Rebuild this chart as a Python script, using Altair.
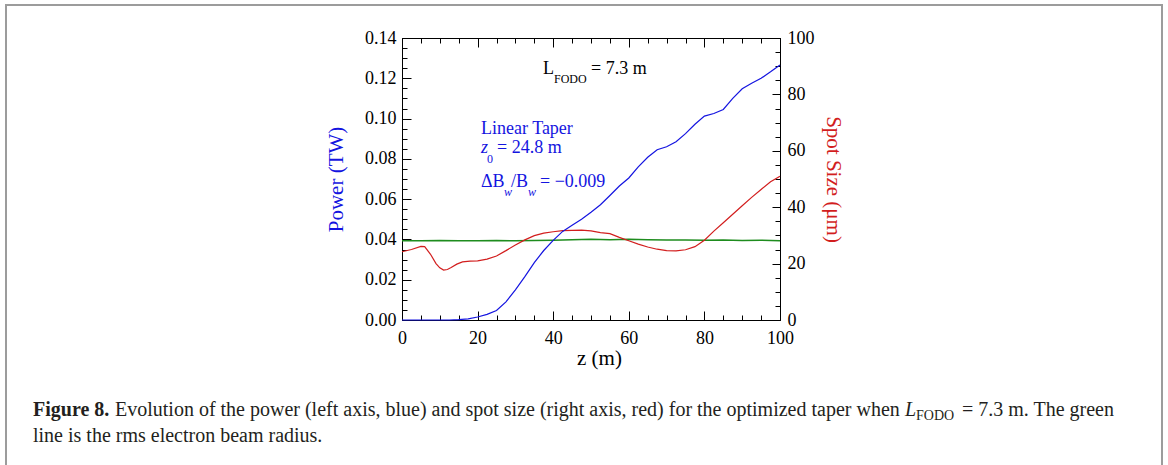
import altair as alt
import pandas as pd

# ---------------- data ----------------
z_power = [0, 2.5, 5, 7.5, 10, 12.5, 15, 17.5, 20, 22.5, 25, 27.5, 30, 32.5, 35, 37.5,
           40, 42.5, 45, 47.5, 50, 52.5, 55, 57.5, 60, 62.5, 65, 67.5, 70, 72.5, 75,
           77.5, 80, 82.5, 85, 87.5, 90, 92.5, 95, 97.5, 100]
power_tw = [0, 0, 0, 0, 0, 0, 0.0002, 0.0006, 0.0015, 0.0028, 0.0047, 0.0090, 0.0150,
            0.0215, 0.0285, 0.0345, 0.0395, 0.0440, 0.0470, 0.0500, 0.0535, 0.0572,
            0.0618, 0.0665, 0.0705, 0.0760, 0.0808, 0.0845, 0.0860, 0.0885, 0.0925,
            0.0972, 0.1012, 0.1025, 0.1045, 0.1100, 0.1148, 0.1175, 0.1200, 0.1232, 0.1266]

z_spot = [0, 2.5, 5, 6, 7.5, 9, 10, 11, 12, 13, 14.5, 16, 18, 20, 22.5, 25, 27.5, 30,
          32.5, 35, 37.5, 40, 42.5, 45, 47.5, 50, 52.5, 55, 57.5, 60, 62.5, 65, 67.5,
          70, 72.5, 75, 77.5, 80, 82.5, 85, 87.5, 90, 92.5, 95, 97.5, 100]
spot_um = [24.2, 25.0, 26.1, 26.0, 23.4, 20.0, 18.5, 17.7, 17.9, 18.6, 19.8, 20.6, 20.9,
           21.0, 21.6, 22.7, 24.6, 26.6, 28.4, 29.9, 30.8, 31.3, 31.7, 31.8, 31.9, 31.6,
           31.0, 30.6, 29.3, 28.1, 26.9, 25.9, 25.1, 24.6, 24.5, 24.9, 26.0, 28.3, 31.5,
           34.5, 37.5, 40.5, 43.5, 46.3, 49.0, 51.0]

z_beam = [0, 5, 10, 15, 20, 25, 30, 35, 40, 45, 50, 55, 60, 65, 70, 75, 80, 85, 90, 95, 100]
beam_um = [28.1, 28.1, 28.2, 28.1, 28.1, 28.2, 28.1, 28.2, 28.3, 28.5, 28.6, 28.5, 28.6,
           28.5, 28.4, 28.4, 28.3, 28.4, 28.2, 28.3, 28.1]

x_major = [0, 20, 40, 60, 80, 100]
x_minor = [0, 5, 10, 15, 20, 25, 30, 35, 40, 45, 50, 55, 60, 65, 70, 75, 80, 85, 90, 95, 100]
p_major = [0, 0.02, 0.04, 0.06, 0.08, 0.10, 0.12, 0.14]
p_minor = [0, 0.005, 0.01, 0.015, 0.02, 0.025, 0.03, 0.035, 0.04, 0.045, 0.05, 0.055, 0.06,
           0.065, 0.07, 0.075, 0.08, 0.085, 0.09, 0.095, 0.10, 0.105, 0.11, 0.115, 0.12,
           0.125, 0.13, 0.135, 0.14]
s_major = [0, 20, 40, 60, 80, 100]
s_minor = [0, 5, 10, 15, 20, 25, 30, 35, 40, 45, 50, 55, 60, 65, 70, 75, 80, 85, 90, 95, 100]

# ---------------- styling ----------------
W, H = 378, 282
FONT = "Liberation Serif"
BLUE = "#1414e0"
RED = "#d21e1e"
GREEN = "#1e8c1e"
CAP = "#231f20"
LBL = 18

df_p = pd.DataFrame({"z": z_power, "p": power_tw})
df_s = pd.DataFrame({"z": z_spot, "s": spot_um})
df_b = pd.DataFrame({"z": z_beam, "s": beam_um})
one = pd.DataFrame({"k": [0]})


def xs():
    return alt.Scale(domain=[0, 100], nice=False, zero=False)


def ps():
    return alt.Scale(domain=[0, 0.14], nice=False, zero=False)


def ss():
    return alt.Scale(domain=[0, 100], nice=False, zero=False)


label_style = dict(labelFont=FONT, labelFontSize=LBL, labelColor="black",
                   labelFontWeight="normal",
                   labelOverlap=False, labelFlush=False, grid=False, domain=False,
                   ticks=False, tickSize=0)

power = alt.Chart(df_p).mark_line(color=BLUE, strokeWidth=1.2).encode(
    x=alt.X("z:Q", scale=xs(), axis=alt.Axis(
        orient="bottom", values=x_major, labelPadding=9, title="z (m)",
        titleFont=FONT, titleFontSize=21, titleFontWeight="normal", titleColor="black",
        titlePadding=0, titleX=197, **label_style)),
    y=alt.Y("p:Q", scale=ps(), axis=alt.Axis(
        orient="left", values=p_major, format=".2f", labelPadding=6, title="Power (TW)",
        titleFont=FONT, titleFontSize=21, titleFontWeight="normal", titleColor=BLUE,
        titlePadding=18, **label_style)),
)

spot = alt.Chart(df_s).mark_line(color=RED, strokeWidth=1.2).encode(
    x=alt.X("z:Q", scale=xs(), axis=None),
    y=alt.Y("s:Q", scale=ss(), axis=alt.Axis(
        orient="right", values=s_major, labelPadding=7, title="Spot Size (μm)",
        titleFont=FONT, titleFontSize=21, titleFontWeight="normal", titleColor=RED,
        titlePadding=8, **label_style)),
)

beam = alt.Chart(df_b).mark_line(color=GREEN, strokeWidth=1.5).encode(
    x=alt.X("z:Q", scale=xs(), axis=None),
    y=alt.Y("s:Q", scale=ss(), axis=None),
)


def tick_axis(orient, offset, values, size):
    return alt.Axis(orient=orient, offset=offset, values=values, tickSize=size,
                    ticks=True, tickColor="black", tickWidth=1, labels=False,
                    domain=False, grid=False, title=None)


def xticks(orient, values, size):
    return alt.Chart(df_p).mark_point(opacity=0).encode(
        x=alt.X("z:Q", scale=xs(), axis=tick_axis(orient, -H, values, size)))


def yticks(field, scale, orient, values, size):
    return alt.Chart(df_p if field == "p" else df_s).mark_point(opacity=0).encode(
        y=alt.Y(f"{field}:Q", scale=scale, axis=tick_axis(orient, -W, values, size)))


tick_layers = [
    xticks("top", x_major, 9), xticks("top", x_minor, 5),        # bottom edge, inward
    xticks("bottom", x_major, 9), xticks("bottom", x_minor, 5),  # top edge, inward
    yticks("p", ps(), "right", p_major, 9), yticks("p", ps(), "right", p_minor, 5),
    yticks("s", ss(), "left", s_major, 8), yticks("s", ss(), "left", s_minor, 5),
]


def txt(s, x, y, size, color, style="normal", weight="normal"):
    return alt.Chart(one).mark_text(
        text=s, font=FONT, fontSize=size, color=color, fontStyle=style,
        fontWeight=weight, align="left", baseline="alphabetic"
    ).encode(x=alt.value(x), y=alt.value(y))


annotations = [
    txt("L", 141, 36, 18, "black"),
    txt("FODO", 152, 45, 12, "black"),
    txt("= 7.3 m", 189, 36, 18, "black"),
    txt("Linear Taper", 79, 96, 18, BLUE),
    txt("z", 79, 115, 18, BLUE, style="italic"),
    txt("0", 85, 125, 12, BLUE),
    txt("= 24.8 m", 95, 115, 18, BLUE),
    txt("ΔB", 79, 149, 18, BLUE),
    txt("w", 102, 158, 12, BLUE, style="italic"),
    txt("/B", 109, 149, 18, BLUE),
    txt("w", 126, 158, 12, BLUE, style="italic"),
    txt("= \u22120.009", 138, 149, 18, BLUE),
]

CAPSZ = 20
caption = [
    txt("Figure 8.", -369, 378, CAPSZ, CAP, weight="bold"),
    txt("Evolution of the power (left axis, blue) and spot size (right axis, red) for the optimized taper when",
        -287, 378, CAPSZ, CAP),
    txt("L", 503, 378, CAPSZ, CAP, style="italic"),
    txt("FODO", 514, 382, 14, CAP),
    txt("= 7.3 m. The green", 560, 378, CAPSZ, CAP),
    txt("line is the rms electron beam radius.", -369, 404, CAPSZ, CAP),
]


def frame_rule(**enc):
    return alt.Chart(one).mark_rule(color="#9c9c9c", strokeWidth=2).encode(**enc)


frame = [
    frame_rule(x=alt.value(-396), y=alt.value(-33), y2=alt.value(440)),
    frame_rule(x=alt.value(-397), x2=alt.value(761), y=alt.value(-33)),
    frame_rule(x=alt.value(760), y=alt.value(-33), y2=alt.value(440)),
]

chart = alt.layer(
    *frame, beam, spot, power, *tick_layers, *annotations, *caption
).resolve_scale(y="independent").resolve_axis(
    x="independent", y="independent"
).properties(
    width=W, height=H,
    autosize=alt.AutoSizeParams(type="none"),
    padding={"left": 402, "top": 38, "right": 1168 - 402 - W, "bottom": 465 - 38 - H},
    background="white",
).configure_view(
    stroke="black", strokeWidth=1
).configure_axis(
    labelFont=FONT, labelFontSize=LBL, labelColor="black", titleFont=FONT
)

chart.save("out.html", embed_options={"renderer": "svg", "actions": False})
